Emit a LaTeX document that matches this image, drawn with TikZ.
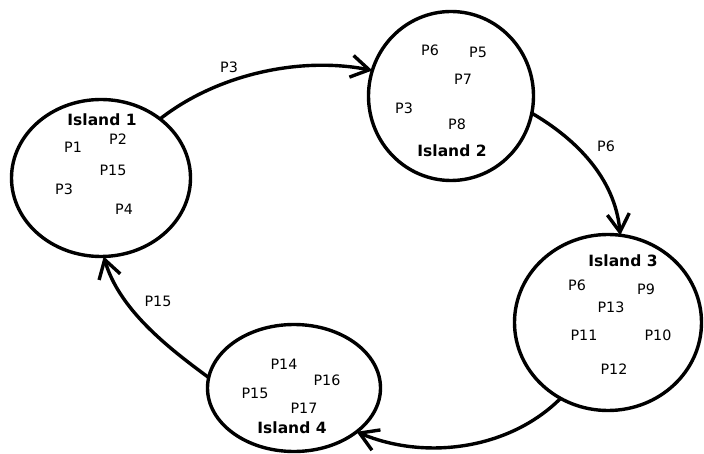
\documentclass[tikz,border=0pt]{standalone}
\usepackage{fontspec}
\setmainfont{DejaVu Sans}
\usetikzlibrary{shapes.geometric,arrows.meta}
\tikzset{
  island/.style={draw, ellipse, line width=3.4pt, inner sep=0pt, outer sep=0pt},
  plabel/.style={inner sep=0pt, font=\fontsize{14.3}{16}\selectfont},
  ilabel/.style={inner sep=0pt, font=\fontsize{15.5}{17}\selectfont\bfseries},
  mig/.style={line width=3.4pt, -{Straight Barb[length=18pt,width=22pt]}}
}
\begin{document}
\begin{tikzpicture}[x=1pt,y=1pt]
\useasboundingbox (0,0) rectangle (704,-454);
% islands
\node[island, minimum width=179pt, minimum height=157pt] (i1) at (101,-178) {};
\node[island, minimum width=165pt, minimum height=169pt] (i2) at (451,-96) {};
\node[island, minimum width=187pt, minimum height=176pt] (i3) at (608,-322.5) {};
\node[island, minimum width=173pt, minimum height=127pt] (i4) at (294,-388) {};
% island 1
\node[ilabel] (t1) at (102,-120) {Island 1};
\node[plabel] (a1) at (73,-147) {P1};
\node[plabel] (a2) at (118,-139) {P2};
\node[plabel] (a3) at (113,-170) {P15};
\node[plabel] (a4) at (64,-189) {P3};
\node[plabel] (a5) at (124,-209) {P4};
% island 2
\node[ilabel] (t2) at (452,-151) {Island 2};
\node[plabel] (b1) at (430,-50) {P6};
\node[plabel] (b2) at (478,-52) {P5};
\node[plabel] (b3) at (463,-79) {P7};
\node[plabel] (b4) at (404,-108) {P3};
\node[plabel] (b5) at (457,-124) {P8};
% island 3
\node[ilabel] (t3) at (623,-261) {Island 3};
\node[plabel] (c1) at (577,-285) {P6};
\node[plabel] (c2) at (646,-289) {P9};
\node[plabel] (c3) at (611,-307) {P13};
\node[plabel] (c4) at (584,-335) {P11};
\node[plabel] (c5) at (658,-335) {P10};
\node[plabel] (c6) at (614,-369) {P12};
% island 4
\node[ilabel] (t4) at (292,-428) {Island 4};
\node[plabel] (d1) at (284,-364) {P14};
\node[plabel] (d2) at (327,-380) {P16};
\node[plabel] (d3) at (255,-393) {P15};
\node[plabel] (d4) at (304,-408) {P17};
% migration labels
\node[plabel] (m1) at (229,-67) {P3};
\node[plabel] (m2) at (606,-146) {P6};
\node[plabel] (m3) at (158,-301) {P15};
% migrations
\draw[mig] (i1.45) .. controls (216,-75) and (299,-56) .. (i2.162);
\draw[mig] (i2.-12) .. controls (576,-139) and (615,-178) .. (i3.82);
\draw[mig] (i3.-122) .. controls (510,-449) and (426,-461) .. (i4.-35);
\draw[mig] (i4.173) .. controls (167,-347) and (119,-309) .. (i1.-88);
\end{tikzpicture}
\end{document}
